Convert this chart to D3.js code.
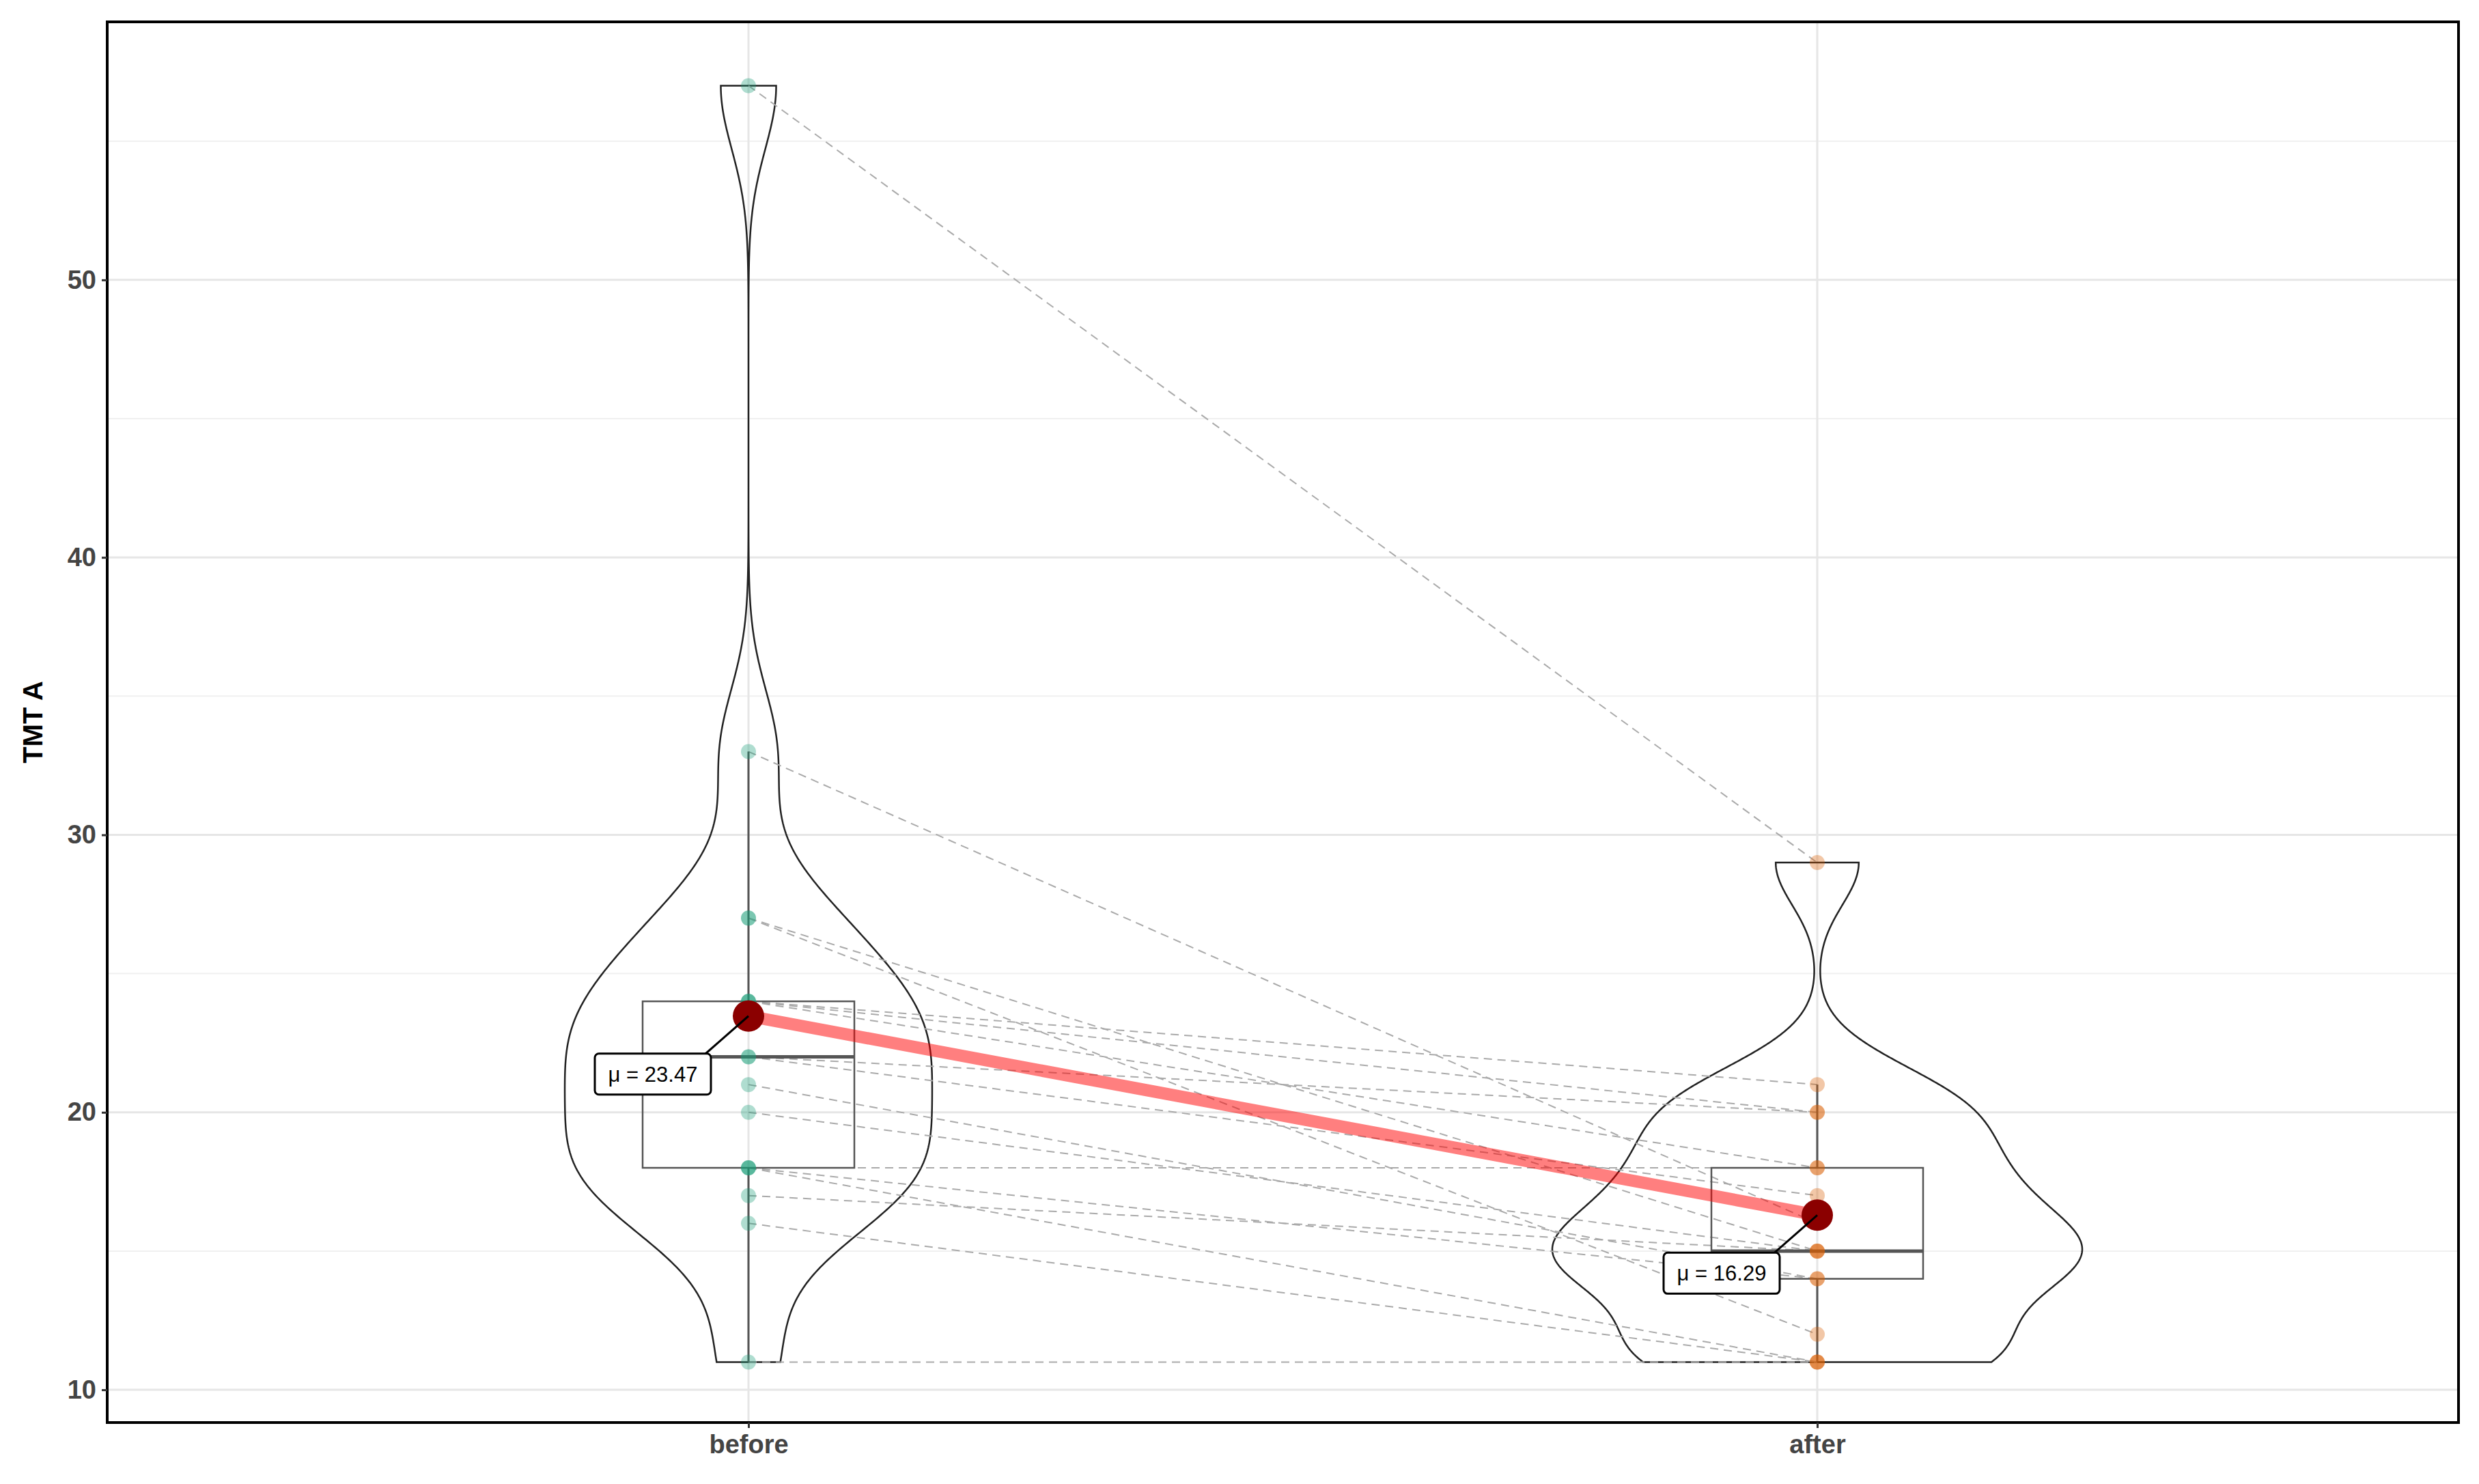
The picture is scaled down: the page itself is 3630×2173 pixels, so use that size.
<!DOCTYPE html>
<html><head><meta charset="utf-8">
<script src="https://cdn.jsdelivr.net/npm/d3@7"></script>
<style>body{margin:0;background:#fff}text{font-family:"Liberation Sans",Arial,sans-serif}</style>
</head><body><svg id="c" width="3630" height="2173"></svg>
<script>
const groups = ['before', 'after'];
// paired observations (same index = same subject)
const before = [57, 33, 27, 27, 24, 24, 24, 22, 22, 21, 20, 18, 18, 18, 17, 16, 11];
const after  = [29, 16, 15, 12, 21, 20, 18, 20, 17, 14, 15, 18, 14, 11, 15, 11, 11];
const yTicks = [10, 20, 30, 40, 50];
const colors = {before: '#1b9e77', after: '#d95f02'};

const W = 3630, H = 2173, m = {l: 157, r: 30, t: 32, b: 90};
const svg = d3.select('#c');
const x = d3.scalePoint().domain(groups).range([m.l, W - m.r]).padding(0.6);
const y = d3.scaleLinear().domain([8.82, 59.3]).range([H - m.b, m.t]);

// grid
const g = svg.append('g');
d3.range(15, 60, 10).forEach(v => g.append('line').attr('x1', m.l).attr('x2', W - m.r)
  .attr('y1', y(v)).attr('y2', y(v)).attr('stroke', '#f0f0f0').attr('stroke-width', 2));
yTicks.forEach(v => g.append('line').attr('x1', m.l).attr('x2', W - m.r)
  .attr('y1', y(v)).attr('y2', y(v)).attr('stroke', '#e6e6e6').attr('stroke-width', 3));
groups.forEach(k => g.append('line').attr('x1', x(k)).attr('x2', x(k))
  .attr('y1', m.t).attr('y2', H - m.b).attr('stroke', '#e6e6e6').attr('stroke-width', 3));

// violins (gaussian kde, bw.nrd0, area scaled, trimmed)
function bwNrd0(v) {
  const s = d3.deviation(v), q = (d3.quantile(v.slice().sort(d3.ascending), .75) - d3.quantile(v.slice().sort(d3.ascending), .25)) / 1.34;
  return 0.9 * Math.min(s, q) * Math.pow(v.length, -0.2);
}
const sets = {before, after};
const dens = {};
groups.forEach(k => {
  const v = sets[k], bw = bwNrd0(v), lo = d3.min(v), hi = d3.max(v);
  dens[k] = d3.range(0, 513).map(i => {
    const t = lo + (hi - lo) * i / 512;
    return [t, d3.mean(v, d => Math.exp(-0.5 * ((t - d) / bw) ** 2)) / (bw * Math.sqrt(2 * Math.PI))];
  });
});
const maxD = d3.max(groups, k => d3.max(dens[k], d => d[1]));
const wS = d3.scaleLinear().domain([0, maxD]).range([0, 388]);
groups.forEach(k => {
  const pts = dens[k].map(d => [x(k) + wS(d[1]), y(d[0])])
    .concat(dens[k].slice().reverse().map(d => [x(k) - wS(d[1]), y(d[0])]));
  svg.append('path').attr('d', d3.line()(pts) + 'Z').attr('fill', 'none')
    .attr('stroke', '#222').attr('stroke-width', 2.5);
});

// paired dashed lines
before.forEach((b, i) => svg.append('line').attr('x1', x('before')).attr('y1', y(b))
  .attr('x2', x('after')).attr('y2', y(after[i])).attr('stroke', '#aaa')
  .attr('stroke-width', 2).attr('stroke-dasharray', '12,8'));

// boxplots
groups.forEach(k => {
  const v = sets[k].slice().sort(d3.ascending);
  const q1 = d3.quantile(v, .25), q2 = d3.quantile(v, .5), q3 = d3.quantile(v, .75), iqr = q3 - q1;
  const wLo = d3.min(v.filter(d => d >= q1 - 1.5 * iqr)), wHi = d3.max(v.filter(d => d <= q3 + 1.5 * iqr));
  const cx = x(k), hw = 155;
  svg.append('line').attr('x1', cx).attr('x2', cx).attr('y1', y(wLo)).attr('y2', y(q1)).attr('stroke', '#555').attr('stroke-width', 3);
  svg.append('line').attr('x1', cx).attr('x2', cx).attr('y1', y(q3)).attr('y2', y(wHi)).attr('stroke', '#555').attr('stroke-width', 3);
  svg.append('rect').attr('x', cx - hw).attr('width', 2 * hw).attr('y', y(q3)).attr('height', y(q1) - y(q3))
    .attr('fill', 'none').attr('stroke', '#555').attr('stroke-width', 2.5);
  svg.append('line').attr('x1', cx - hw).attr('x2', cx + hw).attr('y1', y(q2)).attr('y2', y(q2)).attr('stroke', '#555').attr('stroke-width', 5);
});

// points
groups.forEach(k => sets[k].forEach(v => svg.append('circle').attr('cx', x(k)).attr('cy', y(v))
  .attr('r', 11).attr('fill', colors[k]).attr('opacity', 0.35)));

// means
const means = groups.map(k => ({k, m: d3.mean(sets[k])}));
svg.append('line').attr('x1', x('before')).attr('y1', y(means[0].m)).attr('x2', x('after')).attr('y2', y(means[1].m))
  .attr('stroke', '#ff0000').attr('stroke-opacity', 0.5).attr('stroke-width', 18);
means.forEach(d => svg.append('circle').attr('cx', x(d.k)).attr('cy', y(d.m)).attr('r', 23).attr('fill', '#8b0000'));
const lab = [{dx: -140, dy: 85}, {dx: -140, dy: 85}];
means.forEach((d, i) => {
  const cx = x(d.k) + lab[i].dx, cy = y(d.m) + lab[i].dy;
  svg.append('line').attr('x1', x(d.k)).attr('y1', y(d.m)).attr('x2', cx + 75).attr('y2', cy - 28)
    .attr('stroke', '#000').attr('stroke-width', 3);
  svg.append('rect').attr('x', cx - 85).attr('y', cy - 30).attr('width', 170).attr('height', 60).attr('rx', 6)
    .attr('fill', '#fff').attr('stroke', '#000').attr('stroke-width', 3);
  svg.append('text').attr('x', cx).attr('y', cy + 11).attr('text-anchor', 'middle').attr('font-size', 31)
    .text('μ = ' + d.m.toFixed(2));
});

// panel border + axes
svg.append('rect').attr('x', m.l).attr('y', m.t).attr('width', W - m.l - m.r).attr('height', H - m.t - m.b)
  .attr('fill', 'none').attr('stroke', '#000').attr('stroke-width', 4);
const ya = svg.append('g').attr('transform', `translate(${m.l},0)`).call(d3.axisLeft(y).tickValues(yTicks).tickSize(8).tickPadding(8));
const xa = svg.append('g').attr('transform', `translate(0,${H - m.b})`).call(d3.axisBottom(x).tickSize(8).tickPadding(10));
[ya, xa].forEach(a => {
  a.select('.domain').remove();
  a.selectAll('line').attr('stroke', '#333').attr('stroke-width', 3);
  a.selectAll('text').attr('font-size', 38).attr('font-weight', 'bold').attr('fill', '#444')
    .style('font-family', '"Liberation Sans",Arial,sans-serif');
});
svg.append('text').attr('transform', `translate(62,${(m.t + H - m.b) / 2}) rotate(-90)`).attr('text-anchor', 'middle')
  .attr('font-size', 40).attr('font-weight', 'bold').text('TMT A');
</script></body></html>
